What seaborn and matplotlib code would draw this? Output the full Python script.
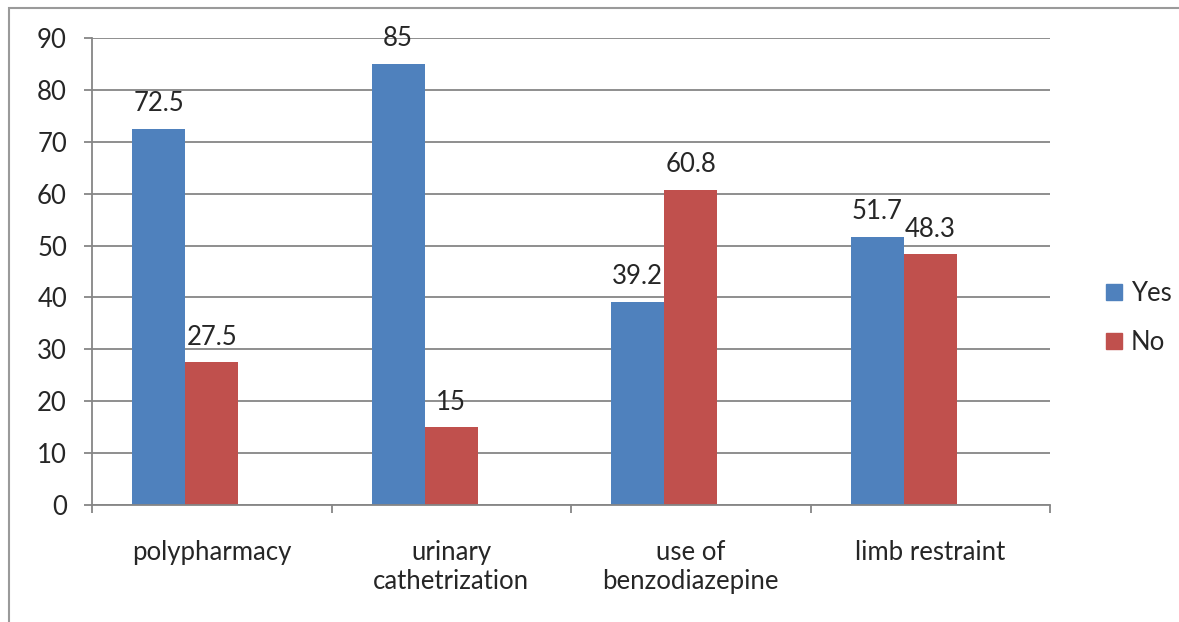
import pandas as pd
import seaborn as sns
import matplotlib.pyplot as plt
from matplotlib.patches import Rectangle, Patch

# values (percent)
categories = ["polypharmacy", "urinary\ncathetrization", "use of\nbenzodiazepine", "limb restraint"]
yes_values = [72.5, 85, 39.2, 51.7]
no_values = [27.5, 15, 60.8, 48.3]
yes_labels = ["72.5", "85", "39.2", "51.7"]
no_labels = ["27.5", "15", "60.8", "48.3"]

df = pd.DataFrame({
    "category": categories * 2,
    "value": yes_values + no_values,
    "group": ["Yes"] * 4 + ["No"] * 4,
})

sns.set_style("white")
plt.rcParams["font.family"] = ["Lato", "DejaVu Sans"]
fs = 18.5

fig = plt.figure(figsize=(11.79, 6.22), dpi=100)
ax = fig.add_axes([92 / 1179, 1 - 505 / 622, (1050 - 92) / 1179, (505 - 38) / 622])

blue = "#4F81BD"
red = "#C0504D"
# third empty hue level keeps the Excel-like left shifted pair of bars
sns.barplot(data=df, x="category", y="value", hue="group", hue_order=["Yes", "No", "_empty"],
            palette={"Yes": blue, "No": red, "_empty": "white"}, width=0.664,
            saturation=1, errorbar=None, ax=ax, legend=False)

for cont, labels in zip(ax.containers, [yes_labels, no_labels]):
    ax.bar_label(cont, labels=labels, padding=9, fontsize=fs)
for p in ax.patches:
    p.set_edgecolor("none")

ax.set_ylim(0, 90)
ax.set_yticks(range(0, 91, 10))
ax.set_xlim(-0.5, 3.5)
ax.set_xlabel("")
ax.set_ylabel("")
ax.yaxis.grid(True, color="#868686", linewidth=1.3)
ax.set_axisbelow(True)
for s in ["top", "right"]:
    ax.spines[s].set_visible(False)
for s in ["left", "bottom"]:
    ax.spines[s].set_color("#868686")
    ax.spines[s].set_linewidth(1.3)

ax.tick_params(axis="y", left=True, length=6, width=1.3, color="#868686", pad=12, labelsize=fs)
ax.tick_params(axis="x", which="major", bottom=True, length=0, pad=25, labelsize=fs)
ax.set_xticks([-0.5, 0.5, 1.5, 2.5, 3.5], minor=True)
ax.tick_params(axis="x", which="minor", bottom=True, length=6, width=1.3, color="#868686")

handles = [Patch(color=blue, label="Yes"), Patch(color=red, label="No")]
fig.legend(handles=handles, loc="center left", bbox_to_anchor=(1083 / 1179, 1 - 318 / 622),
           frameon=False, fontsize=fs, handlelength=0.6, handleheight=0.6,
           labelspacing=0.95, handletextpad=0.35)

fig.patches.append(Rectangle((9 / 1179, -0.2), 1.2, 1.2 - 8 / 622, transform=fig.transFigure,
                             fill=False, edgecolor="#9A9A9A", linewidth=1.5))

fig.savefig("out.png", dpi=100)
